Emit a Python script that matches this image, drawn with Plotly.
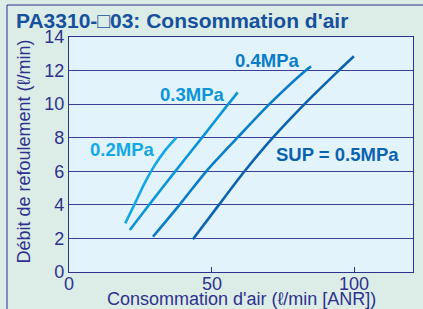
import plotly.graph_objects as go

# ---- data ----
x_02 = [19.7, 23.0, 26.5, 30.0, 33.5, 37.6]
y_02 = [2.9, 4.05, 5.3, 6.35, 7.2, 8.0]
x_03 = [21.3, 27.6, 37.0, 46.8, 55.1, 59.1]
y_03 = [2.5, 3.9, 5.95, 8.05, 9.85, 10.7]
x_04 = [29.4, 38.7, 48.1, 59.0, 70.2, 82.5, 84.8]
y_04 = [2.1, 4.0, 6.0, 8.0, 10.0, 11.95, 12.25]
x_05 = [43.4, 52.5, 61.5, 71.4, 82.5, 94.2, 99.8]
y_05 = [1.95, 4.0, 6.0, 8.0, 10.0, 11.95, 12.85]

series_names = ["0.2MPa", "0.3MPa", "0.4MPa", "SUP = 0.5MPa"]
series_colors = ["#12a8e6", "#0b95d8", "#0a7dc9", "#0b63b0"]
label_x = [18.4, 43.0, 69.4, 93.9]
label_y = [7.3, 10.6, 12.6, 7.0]

x_ticks = [0, 50, 100]
x_tick_labels = ["0", "50", "100"]
y_ticks = [0, 2, 4, 6, 8, 10, 12, 14]

title_text = "PA3310-\u25a103: Consommation d'air"
x_title = "Consommation d'air (\u2113/min [ANR])"
y_title = "Débit de refoulement (\u2113/min)"

NAVY = "#2f318f"
FONT = "Liberation Sans, Arial, sans-serif"

W, H = 423, 309
L, R, T, B = 69, 10, 37, 37
PW, PH = W - L - R, H - T - B


def px(x):
    return (x - L) / PW


def py(y):
    return 1 - (y - T) / PH


fig = go.Figure()
for xs, ys, name, col in zip([x_02, x_03, x_04, x_05], [y_02, y_03, y_04, y_05],
                             series_names, series_colors):
    fig.add_trace(go.Scatter(x=xs, y=ys, mode="lines", name=name,
                             line=dict(color=col, width=2.6, shape="spline", smoothing=0.8),
                             hoverinfo="skip", showlegend=False))

for name, col, lx, ly in zip(series_names, series_colors, label_x, label_y):
    fig.add_annotation(x=lx, y=ly, xref="x", yref="y", text="<b>%s</b>" % name,
                       showarrow=False, xanchor="center", yanchor="middle",
                       font=dict(family=FONT, size=18.5, color=col))

# x tick labels (placed close to the axis like the reference)
for tv, tl in zip(x_ticks, x_tick_labels):
    fig.add_annotation(x=tv, y=py(283.5), xref="x", yref="paper", text=tl,
                       showarrow=False, xanchor="center", yanchor="middle",
                       font=dict(family=FONT, size=18, color=NAVY))

# chart title
fig.add_annotation(x=px(14), y=py(20), xref="paper", yref="paper",
                   text="<b>%s</b>" % title_text,
                   showarrow=False, xanchor="left", yanchor="middle",
                   font=dict(family=FONT, size=21, color="#17519d"))
# axis titles
fig.add_annotation(x=px(241), y=py(298.5), xref="paper", yref="paper", text=x_title,
                   showarrow=False, xanchor="center", yanchor="middle",
                   font=dict(family=FONT, size=18, color=NAVY))
fig.add_annotation(x=px(23.5), y=py(152), xref="paper", yref="paper", text=y_title,
                   showarrow=False, xanchor="center", yanchor="middle", textangle=-90,
                   font=dict(family=FONT, size=18, color=NAVY))

fig.update_layout(
    width=W, height=H,
    margin=dict(l=L, r=R, t=T, b=B, pad=0),
    paper_bgcolor="#dcede7",
    plot_bgcolor="#e2f3fb",
    font=dict(family=FONT, size=17, color=NAVY),
    xaxis=dict(range=[0, 120.5], tickvals=x_ticks, ticks="inside", ticklen=5,
               tickcolor=NAVY, showgrid=False, zeroline=False, showline=True,
               linecolor=NAVY, linewidth=1.2, mirror=True, automargin=False,
               showticklabels=False),
    yaxis=dict(range=[0, 14], tickvals=y_ticks, ticks="", showgrid=True,
               gridcolor="#3c3d97", gridwidth=1, zeroline=False, showline=True,
               linecolor=NAVY, linewidth=1.2, mirror=True, automargin=False,
               tickfont=dict(size=18, color=NAVY)),
)

# outer frame lines (left and top)
fig.add_shape(type="line", xref="paper", yref="paper",
              x0=px(7), x1=px(430), y0=py(5), y1=py(5),
              line=dict(color=NAVY, width=1))
fig.add_shape(type="line", xref="paper", yref="paper",
              x0=px(7), x1=px(7), y0=py(5), y1=py(320),
              line=dict(color=NAVY, width=1))

fig.write_html("out.html", config={"displayModeBar": False},
               post_script="document.body.style.margin='0';document.body.style.overflow='hidden';")
